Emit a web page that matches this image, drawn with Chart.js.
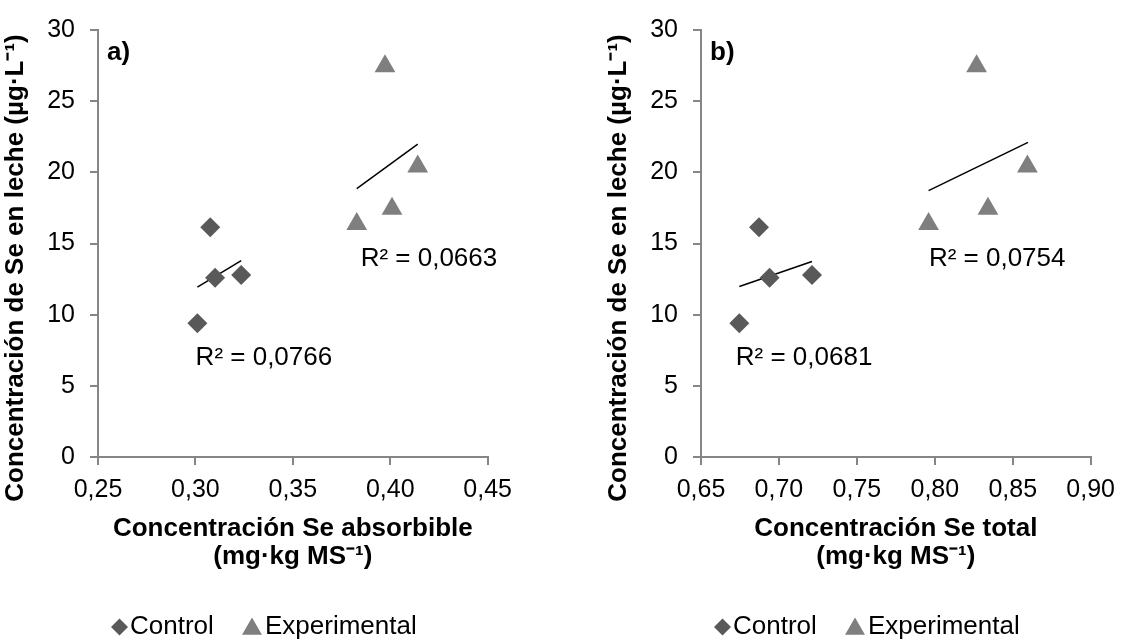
<!doctype html>
<html lang="es">

<head>
    <meta charset="utf-8">
    <title>Se en leche</title>
    <style>
        html, body { margin: 0; background: #fff; }
        .panel { position: absolute; top: 0; width: 522px; height: 642px; }
        #panelA { left: 0; }
        #panelB { left: 603px; }
    </style>
</head>

<body>
    <div class="panel" id="panelA"><canvas id="chartA" width="522" height="642"></canvas></div>
    <div class="panel" id="panelB"><canvas id="chartB" width="522" height="642"></canvas></div>

    <script src="https://cdn.jsdelivr.net/npm/chart.js"></script>
    <script>
        // Se en leche (µg/L) - same cows in both panels
        const milkControl = [9.39, 16.14, 12.6, 12.79];
        const milkExperimental = [16.37, 27.46, 17.45, 20.41];

        // a) Se absorbible en pasto
        const absControl = [0.301, 0.3076, 0.3101, 0.3235];
        const absExperimental = [0.3828, 0.3973, 0.4009, 0.4141];
        const absTrendControlX = [0.301, 0.3235];
        const absTrendControlY = [11.93, 13.8];
        const absTrendExpX = [0.3828, 0.4141];
        const absTrendExpY = [18.86, 21.98];
        const absTicks = [0.25, 0.30, 0.35, 0.40, 0.45];
        const absR2 = ['R² = 0,0766', 'R² = 0,0663'];

        // b) Se total en pasto
        const totControl = [0.6746, 0.6872, 0.694, 0.7212];
        const totExperimental = [0.796, 0.8268, 0.8341, 0.8594];
        const totTrendControlX = [0.6746, 0.7212];
        const totTrendControlY = [11.98, 13.73];
        const totTrendExpX = [0.796, 0.8598];
        const totTrendExpY = [18.72, 22.1];
        const totTicks = [0.65, 0.70, 0.75, 0.80, 0.85, 0.90];
        const totR2 = ['R² = 0,0681', 'R² = 0,0754'];

        const yTicks = [0, 5, 10, 15, 20, 25, 30];

        Chart.defaults.font.family = '"Liberation Sans", Arial, sans-serif';
        Chart.defaults.color = '#000';

        const axisGrey = '#868686';
        const yTitle = 'Concentración de Se en leche (µg·L⁻¹)';

        function pts(xs, ys) {
            return xs.map((x, i) => ({ x: x, y: ys[i] }));
        }

        // extra text: panel letter, rotated y title, R² labels and the legend
        const notes = {
            id: 'notes',
            afterDraw(chart) {
                const o = chart.options.plugins.notes;
                const { ctx, chartArea, scales } = chart;
                ctx.save();
                ctx.fillStyle = '#000';
                ctx.textBaseline = 'middle';
                ctx.font = 'bold 26px "Liberation Sans", Arial, sans-serif';
                ctx.textAlign = 'left';
                ctx.fillText(o.letter, chartArea.left + 9, chartArea.top + 23);

                ctx.save();
                ctx.translate(16, 268);
                ctx.rotate(-Math.PI / 2);
                ctx.textAlign = 'center';
                ctx.fillText(yTitle, 0, 0);
                ctx.restore();

                ctx.font = '26px "Liberation Sans", Arial, sans-serif';
                o.labels.forEach(l => {
                    ctx.fillText(l.text, scales.x.getPixelForValue(l.x), scales.y.getPixelForValue(l.y));
                });

                // legend
                const legendY = 627;
                const items = [
                    { ds: 0, mx: 119.5, tx: 130, r: 8.5 },
                    { ds: 1, mx: 252, tx: 265, r: 11.5 }
                ];
                items.forEach(it => {
                    const ds = chart.data.datasets[it.ds];
                    ctx.fillStyle = ds.backgroundColor;
                    Chart.helpers.drawPoint(ctx, { pointStyle: ds.pointStyle, radius: it.r, rotation: 0, borderWidth: 0 }, it.mx, legendY + (ds.pointStyle === 'triangle' ? 2 : 0));
                    ctx.fillStyle = '#000';
                    ctx.fillText(ds.label, it.tx, legendY);
                });
                ctx.restore();
            }
        };

        function makeChart(id, cfg) {
            return new Chart(document.getElementById(id), {
                type: 'scatter',
                data: {
                    datasets: [
                        {
                            label: 'Control', data: pts(cfg.xc, milkControl),
                            pointStyle: 'rectRot', pointRadius: 10, pointHoverRadius: 10,
                            backgroundColor: '#595959', borderWidth: 0
                        },
                        {
                            label: 'Experimental', data: pts(cfg.xe, milkExperimental),
                            pointStyle: 'triangle', pointRadius: 12, pointHoverRadius: 12,
                            backgroundColor: '#7f7f7f', borderWidth: 0
                        },
                        {
                            label: 'tc', data: pts(cfg.tcx, cfg.tcy), showLine: true,
                            borderColor: '#000', borderWidth: 1.5, pointRadius: 0
                        },
                        {
                            label: 'te', data: pts(cfg.tex, cfg.tey), showLine: true,
                            borderColor: '#000', borderWidth: 1.5, pointRadius: 0
                        }
                    ]
                },
                options: {
                    responsive: false,
                    animation: false,
                    layout: { padding: { top: 25, right: 29.5, left: 0, bottom: 60 } },
                    scales: {
                        x: {
                            type: 'linear',
                            min: cfg.ticks[0],
                            max: cfg.ticks[cfg.ticks.length - 1],
                            afterBuildTicks: s => { s.ticks = cfg.ticks.map(v => ({ value: v })); },
                            afterFit: s => { s.height = 125; },
                            border: { color: axisGrey, width: 2 },
                            grid: { drawOnChartArea: false, color: axisGrey, tickLength: 8, lineWidth: 2 },
                            ticks: {
                                padding: 10,
                                font: { size: 25 },
                                maxRotation: 0,
                                callback: v => v.toFixed(2).replace('.', ',')
                            },
                            title: {
                                display: true,
                                text: cfg.xTitle,
                                font: { size: 26, weight: 'bold', lineHeight: 1.08 },
                                padding: { top: 4, bottom: 11 }
                            }
                        },
                        y: {
                            min: 0, max: 30,
                            afterBuildTicks: s => { s.ticks = yTicks.map(v => ({ value: v })); },
                            afterFit: s => { s.width = 98; },
                            border: { color: axisGrey, width: 2 },
                            grid: { drawOnChartArea: false, color: axisGrey, tickLength: 8, lineWidth: 2 },
                            ticks: { padding: 15, font: { size: 25 } }
                        }
                    },
                    plugins: {
                        legend: { display: false },
                        tooltip: { enabled: false },
                        notes: { letter: cfg.letter, labels: cfg.r2 }
                    }
                },
                plugins: [notes]
            });
        }

        makeChart('chartA', {
            xc: absControl, xe: absExperimental,
            tcx: absTrendControlX, tcy: absTrendControlY,
            tex: absTrendExpX, tey: absTrendExpY,
            ticks: absTicks,
            xTitle: ['Concentración Se absorbible', '(mg·kg MS⁻¹)'],
            letter: 'a)',
            r2: [
                { text: absR2[0], x: 0.3001, y: 6.96 },
                { text: absR2[1], x: 0.3848, y: 13.91 }
            ]
        });

        makeChart('chartB', {
            xc: totControl, xe: totExperimental,
            tcx: totTrendControlX, tcy: totTrendControlY,
            tex: totTrendExpX, tey: totTrendExpY,
            ticks: totTicks,
            xTitle: ['Concentración Se total', '(mg·kg MS⁻¹)'],
            letter: 'b)',
            r2: [
                { text: totR2[0], x: 0.6723, y: 6.96 },
                { text: totR2[1], x: 0.7962, y: 13.91 }
            ]
        });
    </script>
</body>

</html>
